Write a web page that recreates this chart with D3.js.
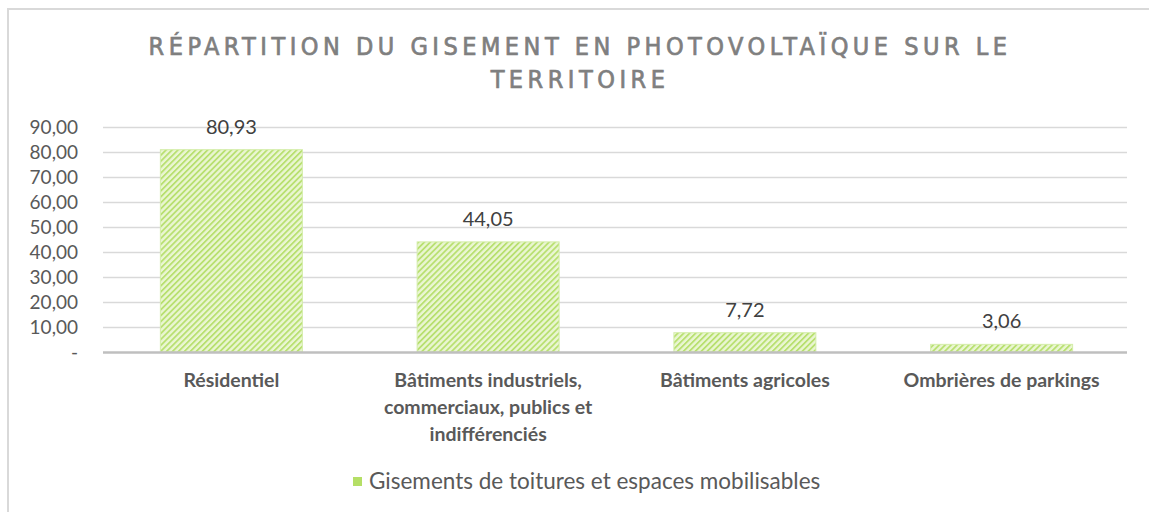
<!DOCTYPE html>
<html><head><meta charset="utf-8">
<script src="https://cdn.jsdelivr.net/npm/d3@7"></script>
<style>
body{margin:0;background:#fff;}
svg{display:block;}
</style></head>
<body>
<svg id="chart" width="1149" height="512"></svg>
<script>
const categories = [
  ["Résidentiel"],
  ["Bâtiments industriels,", "commerciaux, publics et", "indifférenciés"],
  ["Bâtiments agricoles"],
  ["Ombrières de parkings"]
];
const values = [80.93, 44.05, 7.72, 3.06];
const valueLabels = ["80,93", "44,05", "7,72", "3,06"];
const yTicks = [0, 10, 20, 30, 40, 50, 60, 70, 80, 90];
const yTickLabels = ["-", "10,00", "20,00", "30,00", "40,00", "50,00", "60,00", "70,00", "80,00", "90,00"];
const titleLines = ["RÉPARTITION DU GISEMENT EN PHOTOVOLTAÏQUE SUR LE", "TERRITOIRE"];
const seriesName = "Gisements de toitures et espaces mobilisables";

const svg = d3.select("#chart");
const font = "Lato, 'Open Sans', sans-serif";

// chart border
svg.append("path").attr("d","M8,520 L8,9 L1160,9").attr("fill","none").attr("stroke","#d9d9d9").attr("stroke-width",2);

// pattern
const defs = svg.append("defs");
const pat = defs.append("pattern").attr("id","hatch").attr("patternUnits","userSpaceOnUse")
  .attr("width",4.2).attr("height",4.2).attr("patternTransform","rotate(45)");
pat.append("rect").attr("width",4.2).attr("height",4.2).attr("fill","#eaf6d2");
pat.append("rect").attr("width",1.8).attr("height",4.2).attr("fill","#b8e070");

const x = d3.scaleBand().domain(d3.range(categories.length)).range([103, 1130])
  .paddingInner(0.447).paddingOuter(0.2235);
const y = d3.scaleLinear().domain([0, 90]).range([352, 127]);

// title
svg.append("g").selectAll("text").data(titleLines).join("text")
  .attr("x", 580).attr("y", (d,i)=> 55 + i*33)
  .attr("text-anchor","middle")
  .attr("font-family","'DejaVu Sans Condensed', 'Liberation Sans Narrow', sans-serif")
  .attr("font-stretch","condensed")
  .attr("font-size", 25).attr("letter-spacing", 4.5).attr("fill","#7f7f7f")
  .attr("stroke","#7f7f7f").attr("stroke-width",0.7)
  .text(d=>d);

// gridlines
svg.append("g").selectAll("line").data(yTicks.filter(t=>t>0)).join("line")
  .attr("x1",103).attr("x2",1127).attr("y1",d=>Math.round(y(d))+0.5).attr("y2",d=>Math.round(y(d))+0.5)
  .attr("stroke","#d9d9d9").attr("stroke-width",1.5);

// y axis labels
const yAxis = d3.axisLeft(y).tickValues(yTicks).tickFormat((d,i)=>yTickLabels[i]).tickSize(0).tickPadding(0);
const yg = svg.append("g").attr("transform","translate(78,0)").call(yAxis);
yg.select(".domain").remove();
yg.selectAll("text").attr("font-family",font).attr("font-size",19).attr("fill","#595959");

// bars
svg.append("g").selectAll("rect").data(values).join("rect")
  .attr("x",(d,i)=>x(i)).attr("width",x.bandwidth())
  .attr("y",d=>y(d)).attr("height",d=>y(0)-y(d))
  .attr("fill","url(#hatch)").attr("stroke","#d4edaa").attr("stroke-width",1);

// baseline
svg.append("line").attr("x1",103).attr("x2",1127).attr("y1",352.5).attr("y2",352.5)
  .attr("stroke","#bfbfbf").attr("stroke-width",2.5);

// value labels
svg.append("g").selectAll("text").data(values).join("text")
  .attr("x",(d,i)=>x(i)+x.bandwidth()/2).attr("y",d=>y(d)-16)
  .attr("text-anchor","middle").attr("font-family",font).attr("font-size",20).attr("fill","#404040")
  .text((d,i)=>valueLabels[i]);

// category labels
const cg = svg.append("g").selectAll("text").data(categories).join("text")
  .attr("text-anchor","middle").attr("font-family",font).attr("font-size",19.5).attr("font-weight","bold").attr("fill","#595959");
cg.each(function(lines,i){
  d3.select(this).selectAll("tspan").data(lines).join("tspan")
    .attr("x", x(i)+x.bandwidth()/2).attr("y",(d,j)=>387 + j*27).text(d=>d);
});

// legend
svg.append("rect").attr("x",353).attr("y",477).attr("width",9).attr("height",9).attr("fill","#b5df66");
svg.append("text").attr("x",369).attr("y",489).attr("font-family",font).attr("font-size",22.5).attr("fill","#595959").text(seriesName);
</script>
</body></html>
